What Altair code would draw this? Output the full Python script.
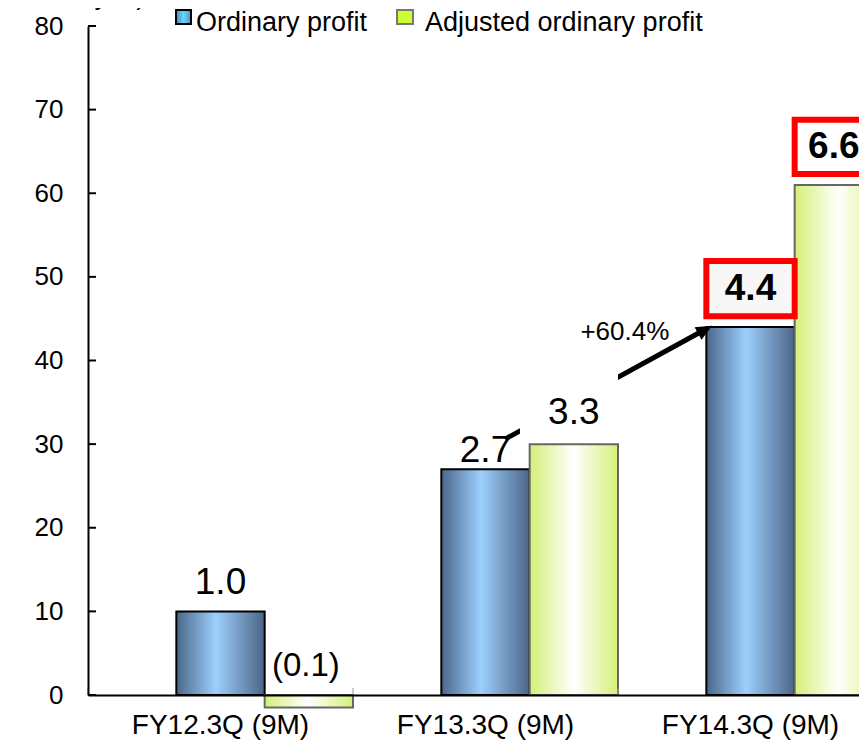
import altair as alt
import pandas as pd

# ---------------- data ----------------
categories = ["FY12.3Q (9M)", "FY13.3Q (9M)", "FY14.3Q (9M)"]
series = ["Ordinary profit", "Adjusted ordinary profit"]
ordinary_values = [10, 27, 44]
adjusted_values = [-1.5, 30, 61]
ordinary_labels = ["1.0", "2.7", "4.4"]
adjusted_labels = ["(0.1)", "3.3", "6.6"]
# label anchors in axis units
ordinary_label_at = [13.4, 29.2, 48.6]
adjusted_label_at = [3.5, 33.7, 65.5]
# highlighted boxes (axis units) for FY14 labels
ordinary_box = [45.3, 51.9]
adjusted_box = [62.3, 68.8]
y_ticks = [0, 10, 20, 30, 40, 50, 60, 70, 80]
growth_label = "+60.4%"
unit_label = "(100 million yen)"

FONT = "Liberation Sans"

blue_grad = alt.LinearGradient(
    gradient="linear", x1=0, x2=1, y1=0, y2=0,
    stops=[alt.GradientStop(offset=0, color="#4a6789"),
           alt.GradientStop(offset=0.45, color="#9dcffd"),
           alt.GradientStop(offset=1, color="#4b6586")])
green_grad = alt.LinearGradient(
    gradient="linear", x1=0, x2=1, y1=0, y2=0,
    stops=[alt.GradientStop(offset=0, color="#d5ef78"),
           alt.GradientStop(offset=0.5, color="#ffffff"),
           alt.GradientStop(offset=1, color="#d5ef78")])
legend_blue = alt.LinearGradient(
    gradient="linear", x1=0, x2=1, y1=0, y2=0,
    stops=[alt.GradientStop(offset=0, color="#3f8ec0"),
           alt.GradientStop(offset=0.5, color="#6fd2ff"),
           alt.GradientStop(offset=1, color="#4596c8")])

df_o = pd.DataFrame({"cat": categories, "series": series[0], "value": ordinary_values,
                     "label": ordinary_labels, "at": ordinary_label_at})
df_a = pd.DataFrame({"cat": categories, "series": series[1], "value": adjusted_values,
                     "label": adjusted_labels, "at": adjusted_label_at})
df_all = pd.concat([df_o, df_a], ignore_index=True)

# the plot runs past the right edge of the picture, as in the original slide
PLOT_W = 771
PLOT_H = 669
BAND_RANGE = [0, 795]

xs = alt.Scale(domain=categories, paddingInner=0, paddingOuter=0, range=BAND_RANGE)
xo_scale = alt.Scale(domain=series, paddingInner=0, paddingOuter=0.5, align=1)
ys = alt.Scale(domain=[0, 80], nice=False)
xaxis = alt.Axis(title=None, labelAngle=0, labelPadding=16, labelFontSize=28,
                 labelLimit=400, orient="bottom", zindex=1)
yaxis = alt.Axis(title=None, values=y_ticks, labelPadding=25, labelFontSize=26,
                 orient="left", zindex=1)


def X(**kw):
    return alt.X("cat:N", scale=xs, sort=categories, axis=xaxis, **kw)


def XO():
    return alt.XOffset("series:N", scale=xo_scale, sort=series)


def Y(field):
    return alt.Y(field, scale=ys, axis=yaxis)


# ---------------- bars and axis details ----------------
bars_o = alt.Chart(df_o).mark_bar(color=blue_grad, stroke="black", strokeWidth=2).encode(
    x=X(), xOffset=XO(), y=Y("value:Q"))
bars_a = alt.Chart(df_a).mark_bar(color=green_grad, stroke="#666666", strokeWidth=2).encode(
    x=X(), xOffset=XO(), y=Y("value:Q"))

ytick_df = pd.DataFrame({"value": y_ticks})
yticks = alt.Chart(ytick_df).mark_rule(color="black", strokeWidth=2).encode(
    y=Y("value:Q"), x=alt.value(0), x2=alt.value(8))

xtick_df = pd.DataFrame({"cat": categories, "value": 0.0, "hi": 0.85})
xticks = alt.Chart(xtick_df).mark_rule(color="#999999", strokeWidth=1).encode(
    x=X(bandPosition=0), y=Y("value:Q"), y2="hi:Q")

plain = df_all[df_all["label"].isin(["1.0", "2.7"])]
labels_plain = alt.Chart(plain).mark_text(font=FONT, fontSize=37, color="black",
                                          baseline="middle").encode(
    x=X(), xOffset=XO(), y=Y("at:Q"), text="label:N")
small = df_all[df_all["label"] == "(0.1)"]
labels_small = alt.Chart(small).mark_text(font=FONT, fontSize=33, color="black",
                                          baseline="middle", dx=-3).encode(
    x=X(), xOffset=XO(), y=Y("at:Q"), text="label:N")

# ---------------- growth arrow (anchored to categories by band position) ----------------
arrow_df = pd.DataFrame({"cat": [categories[1]], "c1": [categories[2]],
                         "v0": [30.6], "v1": [43.47]})
arrow = alt.Chart(arrow_df).mark_rule(color="black", strokeWidth=5, strokeCap="butt").encode(
    x=X(bandPosition=0.574),
    x2=alt.X2("c1:N", bandPosition=0.315),
    y=Y("v0:Q"), y2="v1:Q")
tip_df = pd.DataFrame({"cat": [categories[2]], "v": [44.15]})
head = alt.Chart(tip_df).mark_point(shape="M0,0L0.45,1L-0.45,1Z", filled=True, fill="black",
                                    color="black", opacity=1, size=1024, angle=61,
                                    strokeWidth=0).encode(
    x=X(bandPosition=0.355), y=Y("v:Q"))
mask_df = pd.DataFrame({"cat": [categories[1]], "c1": [categories[2]],
                        "v0": [30.3], "v1": [38.6]})
mask = alt.Chart(mask_df).mark_rect(color="white").encode(
    x=X(bandPosition=0.63),
    x2=alt.X2("c1:N", bandPosition=0.0),
    y=Y("v0:Q"), y2="v1:Q")
growth_df = pd.DataFrame({"cat": [categories[2]], "v": [43.4], "t": [growth_label]})
growth = alt.Chart(growth_df).mark_text(font=FONT, fontSize=26, color="black",
                                        baseline="middle").encode(
    x=X(bandPosition=0.026), y=Y("v:Q"), text="t:N")

# ---------------- labels above mask, highlight boxes ----------------
mid = df_all[df_all["label"] == "3.3"]
label_mid = alt.Chart(mid).mark_text(font=FONT, fontSize=37, color="black",
                                     baseline="middle").encode(
    x=X(), xOffset=XO(), y=Y("at:Q"), text="label:N")

box_df = pd.DataFrame({"cat": [categories[2], categories[2]], "series": series,
                       "lo": [ordinary_box[0], adjusted_box[0]],
                       "hi": [ordinary_box[1], adjusted_box[1]],
                       "fillc": ["#f7f7f7", "#ffffff"]})
boxes = alt.Chart(box_df).mark_bar(stroke="#ff0000", strokeWidth=6).encode(
    x=X(), xOffset=XO(), y=Y("lo:Q"), y2="hi:Q",
    fill=alt.Fill("fillc:N", scale=None))
boxed_o = df_all[df_all["label"] == "4.4"]
labels_boxed_o = alt.Chart(boxed_o).mark_text(font=FONT, fontSize=37, fontWeight="bold",
                                              color="black", baseline="middle").encode(
    x=X(), xOffset=XO(), y=Y("at:Q"), text="label:N")
boxed_a = df_all[df_all["label"] == "6.6"]
labels_boxed_a = alt.Chart(boxed_a).mark_text(font=FONT, fontSize=37, fontWeight="bold",
                                              color="black", baseline="middle", dx=-5).encode(
    x=X(), xOffset=XO(), y=Y("at:Q"), text="label:N")

# ---------------- legend and unit ----------------
leg_df = pd.DataFrame({"name": series})
leg_sq_o = alt.Chart(leg_df.iloc[[0]]).mark_rect(color=legend_blue, stroke="black",
                                                  strokeWidth=2).encode(
    x=alt.value(88), x2=alt.value(103), y=alt.value(-16), y2=alt.value(-2))
leg_sq_a = alt.Chart(leg_df.iloc[[1]]).mark_rect(color="#ccff33", stroke="#777777",
                                                  strokeWidth=2).encode(
    x=alt.value(309), x2=alt.value(325), y=alt.value(-16), y2=alt.value(-2))
leg_tx_o = alt.Chart(leg_df.iloc[[0]]).mark_text(font=FONT, fontSize=27, color="black",
                                                 align="left", baseline="alphabetic").encode(
    x=alt.value(108), y=alt.value(5), text="name:N")
leg_tx_a = alt.Chart(leg_df.iloc[[1]]).mark_text(font=FONT, fontSize=27, color="black",
                                                 align="left", baseline="alphabetic").encode(
    x=alt.value(337), y=alt.value(5), text="name:N")
unit_df = pd.DataFrame({"t": [unit_label]})
unit = alt.Chart(unit_df).mark_text(font=FONT, fontSize=26, color="black", align="right",
                                    baseline="alphabetic").encode(
    x=alt.value(57), y=alt.value(-21), text="t:N")

chart = alt.layer(
    bars_o, bars_a, yticks, xticks, labels_plain, labels_small,
    arrow, head, mask, growth, label_mid, boxes, labels_boxed_o, labels_boxed_a,
    leg_sq_o, leg_sq_a, leg_tx_o, leg_tx_a, unit,
).properties(
    width=PLOT_W, height=PLOT_H,
    autosize=alt.AutoSizeParams(type="none"),
    padding={"left": 80, "top": 18, "right": 0, "bottom": 46},
    background="white",
).configure_view(stroke=None).configure_axis(
    labelFont=FONT, labelColor="black",
    domainColor="black", domainWidth=2, ticks=False, tickSize=0, grid=False,
)

chart.save("out.html", embed_options={"renderer": "svg", "actions": False})
